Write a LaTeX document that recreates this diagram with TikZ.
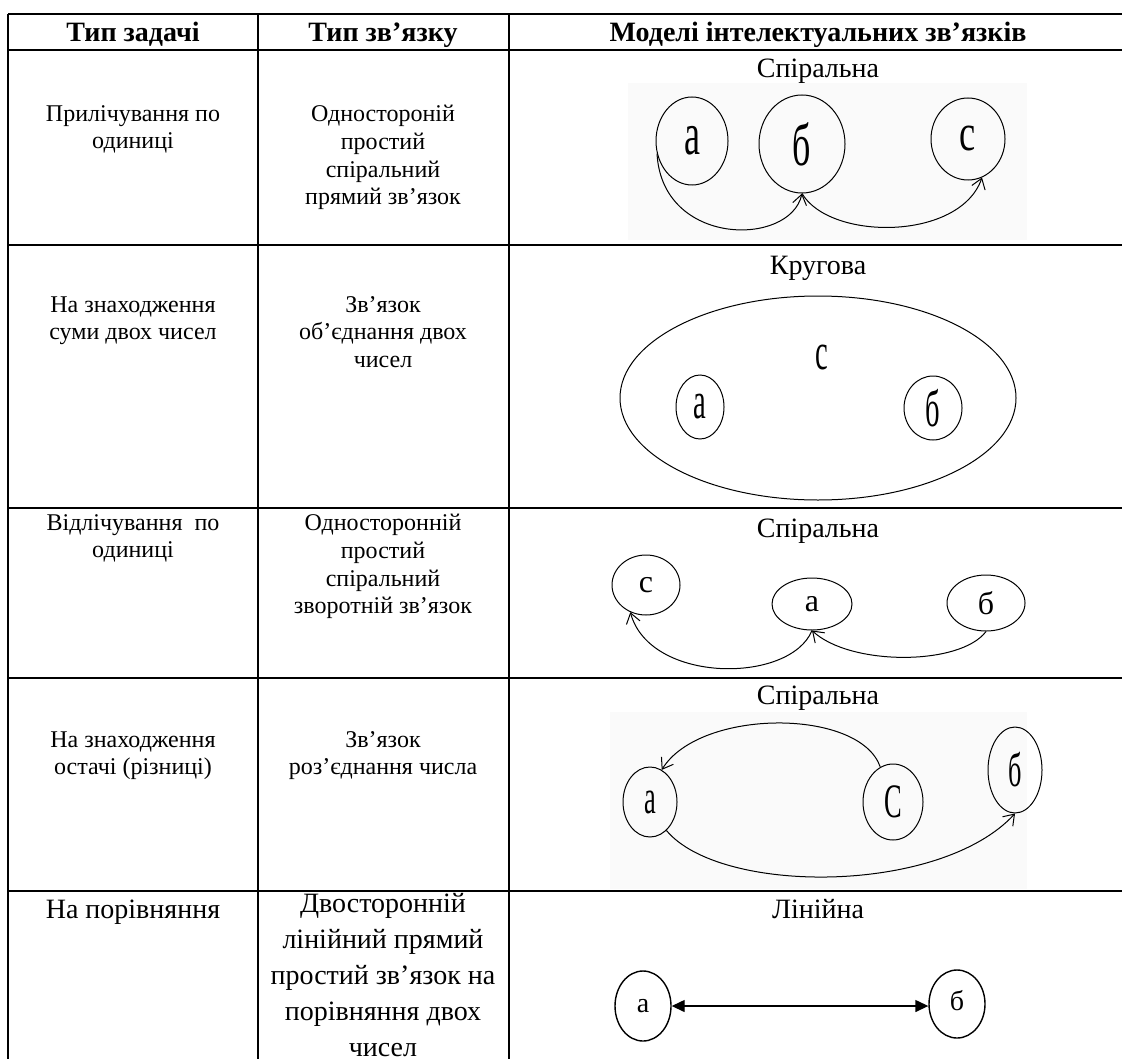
\documentclass[tikz,border=0pt]{standalone}
\usepackage{fontspec}
\setmainfont{Liberation Serif}
\usepackage{graphicx}
\usepackage{tikz}
\usetikzlibrary{positioning}
\usetikzlibrary{shapes.geometric}
\usetikzlibrary{arrows.meta}
\newcommand{\narrow}[2]{\scalebox{#1}[1]{#2}}

\begin{document}
\begin{tikzpicture}
[
x=0.5pt, y=-0.5pt,
rule-a/.style={line width=1pt},
rule-b/.style={line width=0.6pt},
text-a/.style={align=center, anchor=north, inner sep=0pt, font=\fontsize{12}{13.8}\selectfont, execute at begin node=\strut},
text-b/.style={align=center, anchor=north, inner sep=0pt, font=\fontsize{14}{18}\selectfont, execute at begin node=\strut},
cap-a/.style={anchor=base, inner sep=0pt, font=\fontsize{14}{16}\selectfont},
head-a/.style={cap-a, font=\fontsize{14}{16}\selectfont\bfseries},
circ-a/.style={ellipse, draw, inner sep=0pt, line width=0.5pt},
circ-b/.style={ellipse, draw, inner sep=0pt, line width=0.7pt, font=\fontsize{14}{16}\selectfont},
arc-a/.style={->, >={Straight Barb[length=5pt,width=7pt]}, line width=0.5pt},
arc-b/.style={<->, >={Triangle[length=6.5pt,width=6pt]}, line width=0.7pt},
]
\useasboundingbox (0,0) rectangle (1122,1059);
% table rules
\draw [rule-a] (8,14) -- (1122,14);
\draw [rule-a] (8,50) -- (1122,50);
\foreach \y in {245,508,678,891}
  \draw [rule-a] (8,\y) -- (1122,\y);
\draw [rule-a] (8,14) -- (8,1059);
\draw [rule-b] (258,14) -- (258,1059);
\draw [rule-b] (509,14) -- (509,1059);

% header
\node (h1) [head-a] at (133,42) {Тип задачі};
\node (h2) [head-a] at (383,42) {Тип зв’язку};
\node (h3) [head-a] at (818,42) {Моделі інтелектуальних зв’язків};

% row 1
\node (t1) [text-a] at (133,105) {Прилічування по\\ одиниці};
\node (s1) [text-a] at (383,105) {Одностороній\\ простий\\ спіральний\\ прямий зв’язок};
\node (m1) [cap-a] at (818,78) {Спіральна};
\fill [black!2] (628,83) rectangle (1027,240);
\node (a1) [circ-a, minimum width=36pt, minimum height=44pt, font=\fontsize{30}{30}\selectfont] at (692,141) {\narrow{0.6}{а}};
\node (b1) [circ-a, minimum width=43pt, minimum height=49pt, font=\fontsize{30}{30}\selectfont] at (802,144) {\narrow{0.6}{б}};
\node (c1) [circ-a, minimum width=37pt, minimum height=41pt, font=\fontsize{26}{26}\selectfont] at (968,139) {\narrow{0.7}{с}};
\draw [arc-a] (a1.200) .. controls (662,247) and (790,247) .. (b1.south);
\draw [arc-a] (b1.south) .. controls (830,241) and (960,241) .. (c1.-70);

% row 2
\node (t2) [text-a] at (133,296) {На знаходження\\ суми двох чисел};
\node (s2) [text-a] at (383,296) {Зв’язок\\ об’єднання двох\\ чисел};
\node (m2) [cap-a] at (818,274) {Кругова};
\node (e2) [circ-a, minimum width=198pt, minimum height=102pt] at (818,398) {};
\node (c2) [font=\fontsize{26}{26}\selectfont] at (822,357) {\narrow{0.55}{с}};
\node (a2) [circ-a, minimum width=24pt, minimum height=32pt, font=\fontsize{26}{26}\selectfont] at (700,407) {\narrow{0.55}{а}};
\node (b2) [circ-a, minimum width=29pt, minimum height=32pt, font=\fontsize{26}{26}\selectfont] at (933,408) {\narrow{0.55}{б}};

% row 3
\node (t3) [text-a] at (133,514) {Відлічування~ по\\ одиниці};
\node (s3) [text-a] at (383,514) {Односторонній\\ простий\\ спіральний\\ зворотній зв’язок};
\node (m3) [cap-a] at (818,537) {Спіральна};
\node (c3) [circ-a, minimum width=34pt, minimum height=30pt, font=\fontsize{16}{16}\selectfont] at (646,585) {с};
\node (a3) [circ-a, minimum width=40pt, minimum height=26pt, font=\fontsize{16}{16}\selectfont] at (812,604) {а};
\node (b3) [circ-a, minimum width=39pt, minimum height=28pt, font=\fontsize{16}{16}\selectfont] at (986,603) {б};
\draw [arc-a] (a3.south) .. controls (790,684) and (650,684) .. (c3.240);
\draw [arc-a] (b3.south) .. controls (960,666) and (850,666) .. (a3.south);

% row 4
\node (t4) [text-a] at (133,731) {На знаходження\\ остачі (різниці)};
\node (s4) [text-a] at (383,731) {Зв’язок\\ роз’єднання числа};
\node (m4) [cap-a] at (818,704) {Спіральна};
\fill [black!2] (610,712) rectangle (1027,889);
\node (a4) [circ-a, minimum width=27pt, minimum height=35pt, font=\fontsize{24}{24}\selectfont] at (650,802) {\narrow{0.55}{а}};
\node (c4) [circ-a, minimum width=30pt, minimum height=38pt, font=\fontsize{24}{24}\selectfont] at (893,802) {\narrow{0.55}{С}};
\node (b4) [circ-a, minimum width=27pt, minimum height=43pt, font=\fontsize{24}{24}\selectfont] at (1015,770) {\narrow{0.55}{б}};
\draw [arc-a] (c4.110) .. controls (860,708) and (700,708) .. (a4.70);
\draw [arc-a] (a4.-60) .. controls (720,895) and (940,895) .. (b4.south);

% row 5
\node (t5) [text-b] at (133,893) {На порівняння};
\node (s5) [text-b] at (383,893) {Двосторонній\\ лінійний прямий\\ простий зв’язок на\\ порівняння двох\\ чисел};
\node (m5) [cap-a] at (818,918) {Лінійна};
\node (a5) [circ-b, minimum width=28pt, minimum height=35pt] at (643,1006) {а};
\node (b5) [circ-b, minimum width=28pt, minimum height=34pt] at (957,1004) {\raisebox{4pt}{б}};
\draw [arc-b] (a5.east) -- (a5.east -| b5.west);
\end{tikzpicture}
\end{document}
